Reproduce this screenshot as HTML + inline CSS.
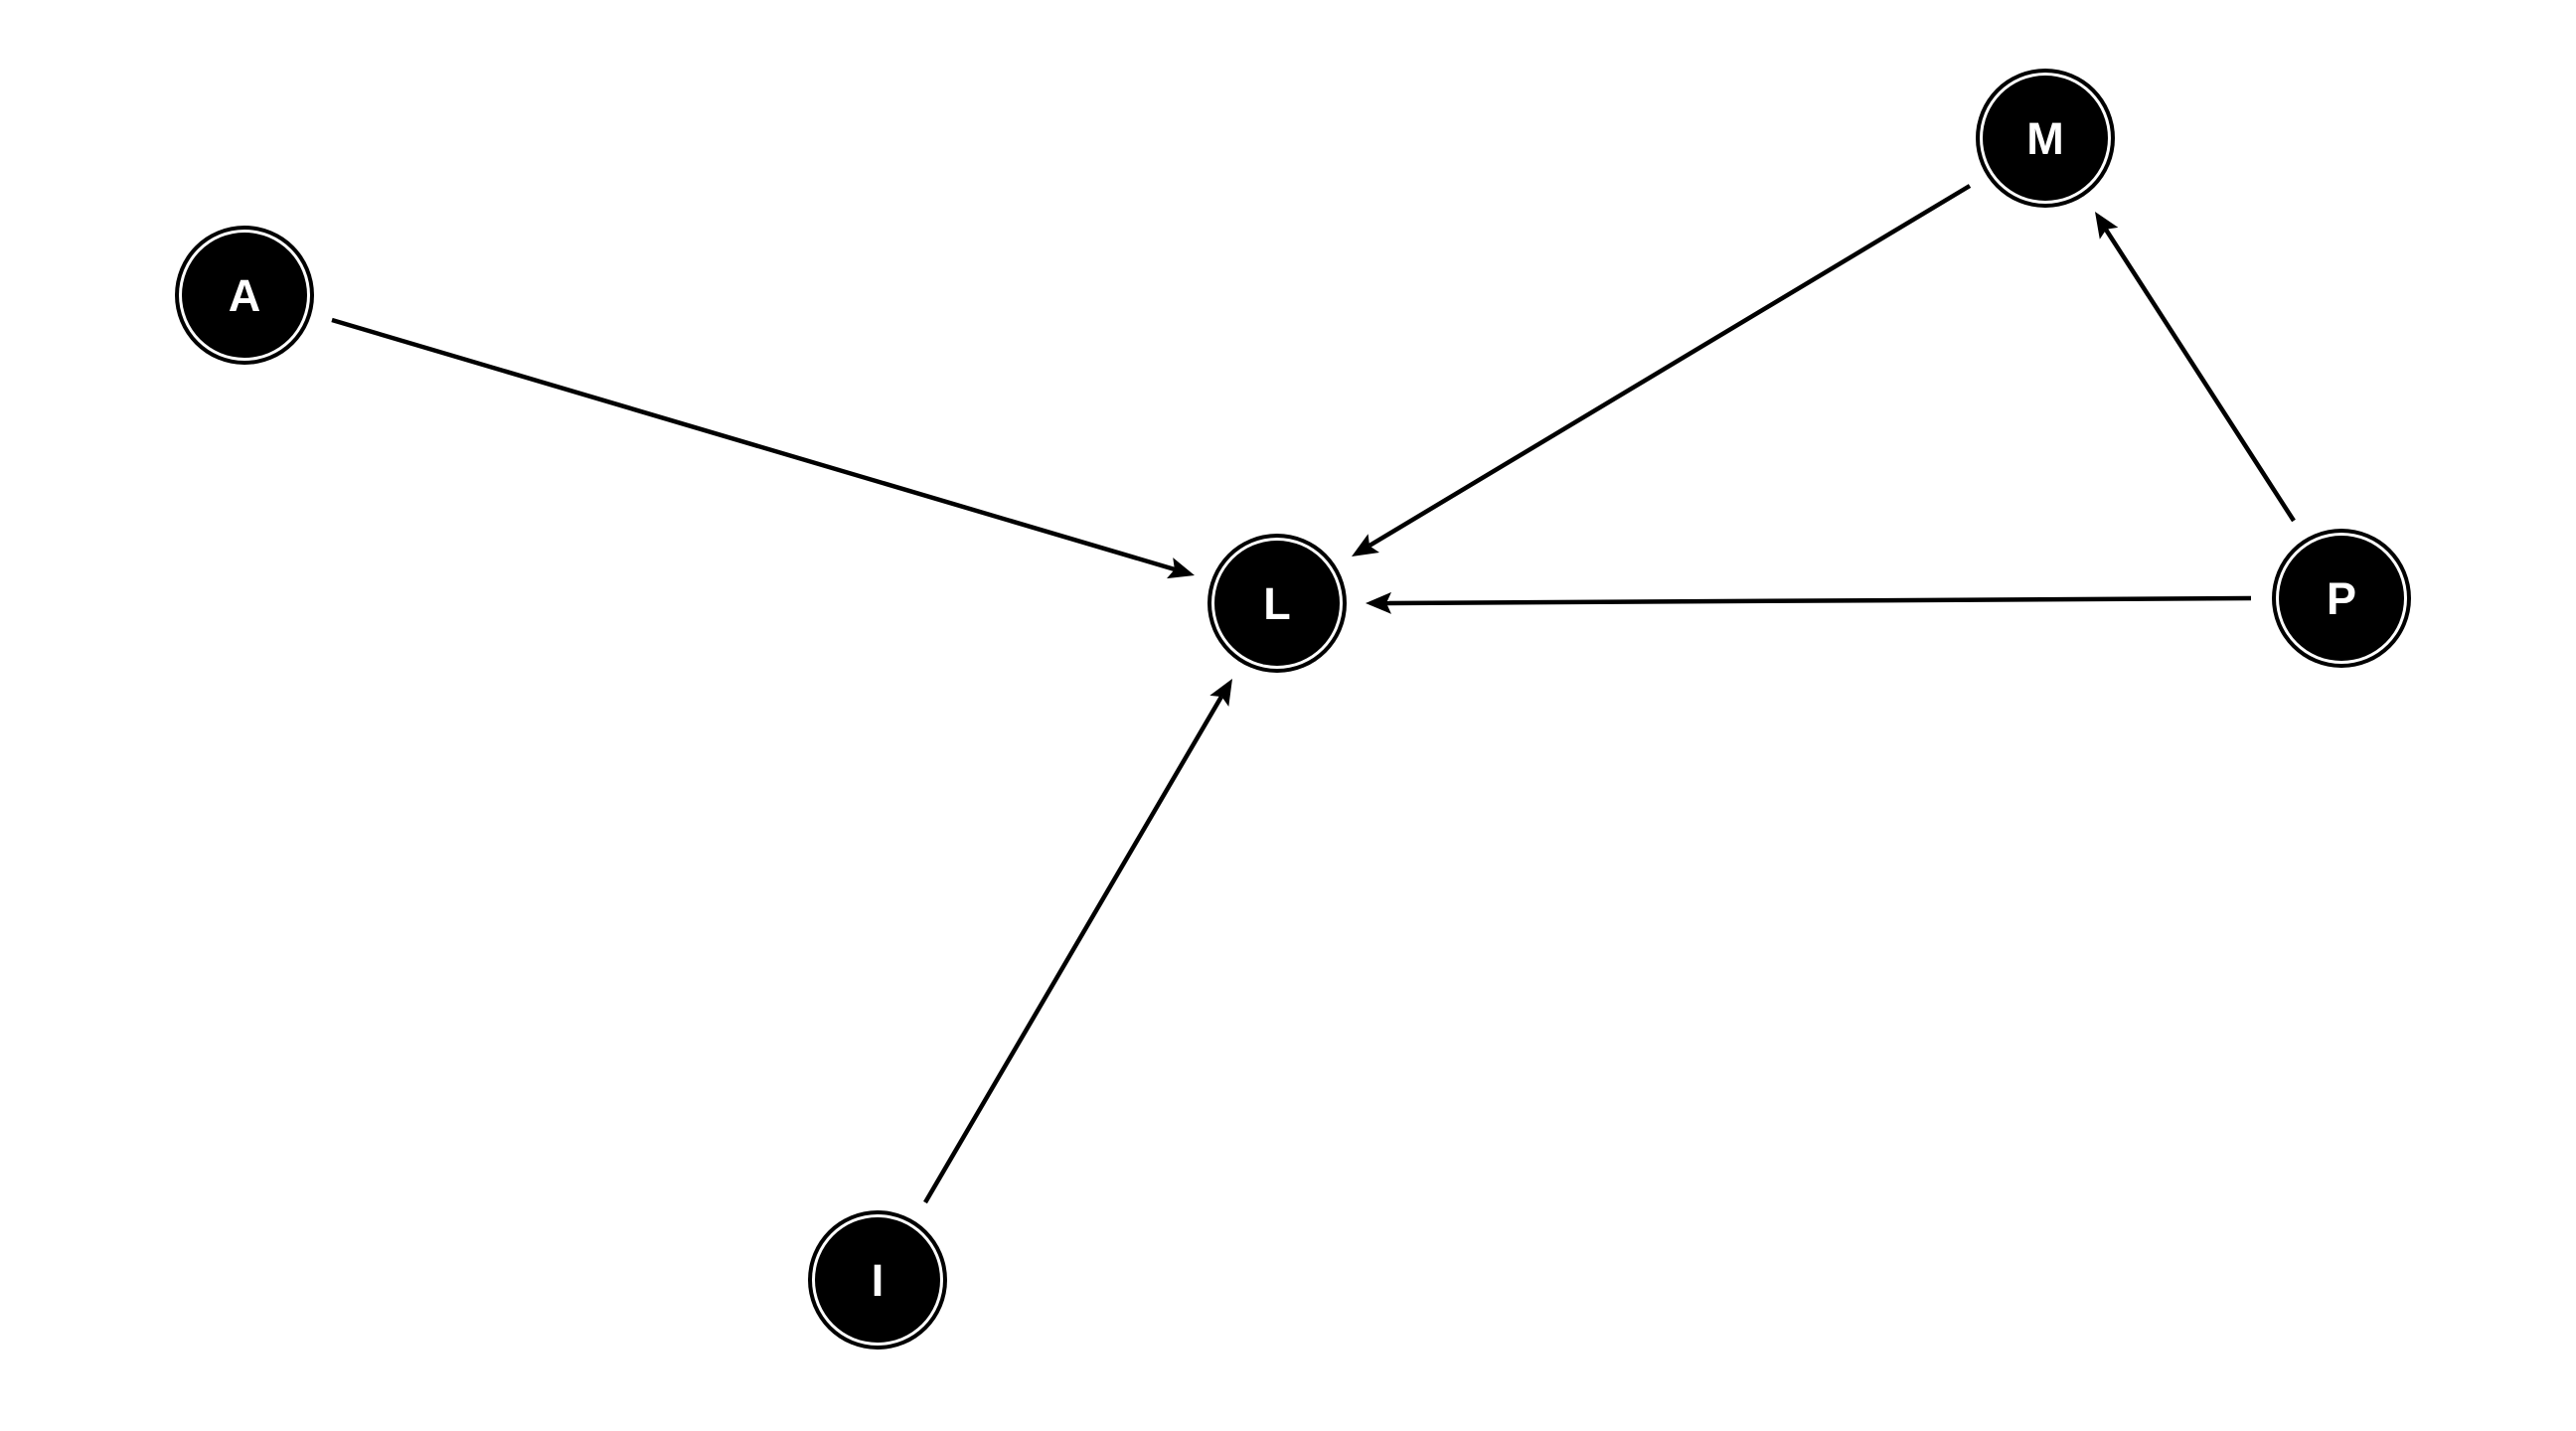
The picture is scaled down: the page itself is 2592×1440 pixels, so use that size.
<!DOCTYPE html>
<html><head><meta charset="utf-8"><style>
html,body{margin:0;padding:0;background:#fff;}
svg{display:block;}
text{font-family:"Liberation Sans",Arial,sans-serif;font-weight:bold;font-size:45px;fill:#fff;}
</style></head><body>
<svg width="2592" height="1440" viewBox="0 0 2592 1440" xmlns="http://www.w3.org/2000/svg">
<defs>
<g id="node">
<circle r="70" fill="#000"/>
<circle r="66" fill="#fff"/>
<circle r="63" fill="#000"/>
</g>
</defs>
<g stroke="#000" stroke-width="4.5" fill="none">
<line x1="334" y1="322" x2="1182" y2="573"/>
<line x1="1982" y1="187" x2="1378" y2="549"/>
<line x1="2308" y1="524" x2="2119" y2="231"/>
<line x1="2265" y1="602" x2="1395" y2="607"/>
<line x1="931" y1="1210" x2="1229" y2="701"/>
</g>
<g fill="#000">
<polygon points="1202,579 1174,582.1 1181.9,573 1180.2,561.1"/>
<polygon points="1360,560 1376.6,537.2 1378,549.2 1388,556"/>
<polygon points="2108,213 2131.3,228.9 2119.4,230.7 2112.8,240.8"/>
<polygon points="1374,607 1400,595.9 1395,606.9 1400,617.9"/>
<polygon points="1240,683 1236.3,711 1229.4,701.1 1217.3,699.9"/>
</g>
<use href="#node" x="246" y="297"/>
<use href="#node" x="1285" y="607"/>
<use href="#node" x="2058" y="139"/>
<use href="#node" x="2356" y="602"/>
<use href="#node" x="883" y="1288"/>
<g text-anchor="middle">
<text x="246" y="313">A</text>
<text x="1285" y="623">L</text>
<text x="2058" y="155">M</text>
<text x="2356" y="618">P</text>
<text x="883" y="1304">I</text>
</g>
</svg>
</body></html>
